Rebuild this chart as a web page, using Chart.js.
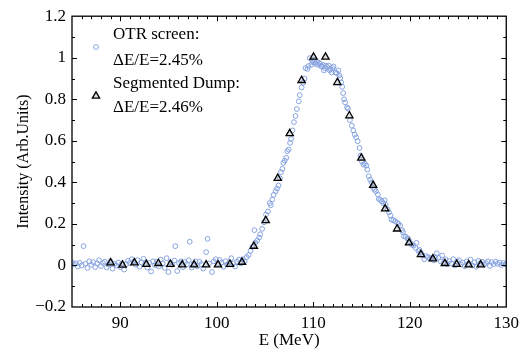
<!DOCTYPE html>
<html><head><meta charset="utf-8">
<script src="https://cdn.jsdelivr.net/npm/chart.js@4/dist/chart.umd.min.js"></script>
<style>html,body{margin:0;padding:0;background:#fff}#wrap{width:525px;height:351px}</style>
</head><body><div id="wrap"><canvas id="c" width="525" height="351"></canvas></div>
<script>
const otrE = [85.0,85.2,85.4,85.6,85.8,86.0,86.2,86.4,86.6,86.8,87.0,87.2,87.4,87.6,87.8,88.0,88.2,88.4,88.6,88.8,89.0,89.2,89.4,89.6,89.8,90.0,90.2,90.4,90.6,90.8,91.0,91.2,91.4,91.6,91.8,92.0,92.2,92.4,92.6,92.8,93.0,93.2,93.4,93.6,93.8,94.0,94.2,94.4,94.6,94.8,95.0,95.2,95.4,95.6,95.7,95.9,96.1,96.3,96.5,96.7,96.9,97.1,97.2,97.4,97.6,97.8,98.0,98.2,98.4,98.6,98.9,99.05,99.2,99.5,99.7,99.9,100.1,100.3,100.5,100.7,100.9,101.1,101.3,101.5,101.7,101.9,102.1,102.3,102.5,102.7,102.9,103.1,103.3,103.5,103.7,103.9,104.0,104.2,104.4,104.5,104.7,104.9,105.1,105.3,105.5,105.6,105.75,105.9,106.1,106.25,106.4,106.55,106.65,106.8,106.9,107.05,107.2,107.3,107.45,107.6,107.7,107.85,108.0,108.16,108.3,108.5,108.6,108.8,108.95,109.1,109.2,109.4,109.5,109.64,109.8,109.9,110.0,110.1,110.2,110.35,110.5,110.6,110.7,110.8,110.9,111.0,111.1,111.2,111.3,111.45,111.6,111.7,111.8,111.9,112.0,112.1,112.3,112.45,112.6,112.7,112.8,112.9,113.0,113.1,113.2,113.3,113.5,113.6,113.8,114.0,114.15,114.3,114.45,114.6,114.8,114.9,115.05,115.2,115.35,115.5,115.6,115.75,115.9,116.05,116.2,116.35,116.5,116.7,116.8,116.95,117.1,117.25,117.4,117.5,117.7,117.85,118.0,118.1,118.3,118.5,118.7,118.85,119.0,119.2,119.3,119.4,119.6,119.75,119.85,120.0,120.2,120.4,120.6,120.7,120.9,121.0,121.15,121.3,121.5,121.7,121.9,122.1,122.3,122.5,122.65,122.8,123.0,123.2,123.35,123.5,123.7,123.9,124.1,124.3,124.5,124.7,124.9,125.1,125.3,125.5,125.7,125.9,126.1,126.3,126.5,126.7,126.9,127.1,127.3,127.5,127.7,127.9,128.1,128.3,128.5,128.7,128.9,129.1,129.3,129.5,129.7,129.9,130.0];
const otrI = [0.015,0.005,0.01,-0.005,0.012,0.0,0.093,0.008,-0.012,0.02,0.003,0.016,-0.008,0.01,0.025,-0.003,0.012,0.018,-0.01,0.005,0.02,-0.015,0.008,0.0,0.014,-0.008,0.01,-0.02,0.006,0.022,0.012,0.03,0.018,0.004,0.026,-0.006,0.015,0.032,0.008,-0.01,0.012,-0.029,0.02,0.002,0.018,-0.005,0.028,0.01,-0.012,0.035,-0.032,0.014,0.004,0.024,0.093,-0.027,0.012,0.02,-0.008,0.016,0.006,0.025,0.114,-0.01,0.008,0.02,-0.004,0.018,0.006,-0.015,0.064,0.128,0.01,-0.032,0.02,0.03,0.008,0.026,0.014,-0.006,0.02,0.004,0.016,0.035,0.01,-0.005,0.018,0.028,0.01,0.03,0.02,0.04,0.05,0.07,0.09,0.17,0.11,0.12,0.135,0.15,0.176,0.208,0.245,0.26,0.30,0.29,0.317,0.34,0.357,0.37,0.385,0.42,0.449,0.465,0.494,0.505,0.518,0.55,0.558,0.59,0.609,0.65,0.69,0.72,0.753,0.79,0.82,0.857,0.88,0.90,0.95,0.946,0.96,0.998,0.966,0.985,0.977,0.99,0.971,0.98,0.966,0.975,0.971,0.96,0.958,0.965,0.939,0.95,0.962,0.955,0.962,0.94,0.946,0.929,0.95,0.958,0.929,0.926,0.939,0.915,0.902,0.881,0.86,0.83,0.80,0.785,0.761,0.755,0.70,0.673,0.65,0.63,0.617,0.598,0.566,0.529,0.50,0.486,0.49,0.481,0.462,0.43,0.413,0.40,0.374,0.365,0.357,0.341,0.32,0.315,0.309,0.30,0.314,0.293,0.27,0.256,0.24,0.221,0.218,0.213,0.205,0.20,0.192,0.17,0.16,0.141,0.138,0.13,0.128,0.115,0.10,0.096,0.085,0.109,0.069,0.075,0.061,0.05,0.029,0.045,0.04,0.032,0.037,0.025,0.04,0.058,0.037,0.02,0.048,0.012,0.03,0.006,0.021,0.01,0.03,0.0,0.018,0.025,0.005,0.014,-0.004,0.02,0.008,0.028,0.0,0.015,-0.006,0.022,0.01,0.018,0.004,0.012,0.02,-0.002,0.016,0.006,0.018,0.008,0.014,0.002,0.012,0.006,0.004];
const dumpE = [89.0,90.24,91.47,92.71,93.95,95.19,96.42,97.66,98.9,100.13,101.37,102.61,103.84,105.08,106.32,107.56,108.79,110.03,111.27,112.5,113.74,114.98,116.21,117.45,118.69,119.93,121.16,122.4,123.64,124.87,126.11,127.35];
const dumpI = [0.013,0.002,0.013,0.006,0.01,0.006,0.003,0.003,0.003,0.003,0.006,0.016,0.093,0.216,0.42,0.635,0.891,1.003,1.003,0.881,0.721,0.517,0.386,0.273,0.176,0.109,0.053,0.032,0.01,0.006,0.003,0.003];
const xTicks = [90,100,110,120,130];
const yTicks = [-0.2,0,0.2,0.4,0.6,0.8,1,1.2];
const legendLines = [["OTR screen:","ΔE/E=2.45%"],["Segmented Dump:","ΔE/E=2.46%"]];

const FONT = "'Liberation Serif','DejaVu Serif',serif";
const BLUE = '#86a3e0';

const frame = {
  id:'frame',
  afterDraw(chart){
    const {ctx, chartArea:a, scales:{x,y}} = chart;
    ctx.save();
    ctx.strokeStyle='#000'; ctx.lineWidth=1.3;
    ctx.strokeRect(a.left,a.top,a.right-a.left,a.bottom-a.top);
    ctx.lineWidth=1;
    ctx.beginPath();
    for(let v=86; v<130; v++){
      const px=Math.round(x.getPixelForValue(v))+0.5;
      const L = (v%10===0)?5:3;
      ctx.moveTo(px,a.bottom); ctx.lineTo(px,a.bottom-L);
      ctx.moveTo(px,a.top); ctx.lineTo(px,a.top+L);
    }
    for(let k=-1; k<12; k++){
      const v=k/10;
      const py=Math.round(y.getPixelForValue(v))+0.5;
      const L = (k%2===0)?5:3;
      ctx.moveTo(a.left,py); ctx.lineTo(a.left+L,py);
      ctx.moveTo(a.right,py); ctx.lineTo(a.right-L,py);
    }
    ctx.stroke();
    ctx.font = "17px "+FONT; ctx.fillStyle='#000'; ctx.textBaseline='middle';
    const lx = a.left+24, tx = a.left+41;
    const rows=[[35,61],[84,108]];
    legendLines.forEach((ln,i)=>{
      ctx.fillText(ln[0],tx,rows[i][0]);
      ctx.fillText(ln[1],tx,rows[i][1]);
    });
    const ds0=chart.data.datasets[0], ds1=chart.data.datasets[1];
    ctx.beginPath(); ctx.strokeStyle=ds0.borderColor; ctx.lineWidth=ds0.borderWidth;
    ctx.arc(lx,47,ds0.pointRadius,0,Math.PI*2); ctx.stroke();
    ctx.fillStyle=ds1.backgroundColor; ctx.strokeStyle=ds1.borderColor; ctx.lineWidth=ds1.borderWidth;
    Chart.helpers.drawPoint(ctx,{pointStyle:'triangle',radius:ds1.pointRadius,borderWidth:ds1.borderWidth},lx,96);
    ctx.restore();
  }
};

new Chart(document.getElementById('c'),{
  type:'scatter',
  data:{datasets:[
    {label:'OTR screen', data:otrE.map((e,i)=>({x:e,y:otrI[i]})), pointStyle:'circle', pointRadius:2.4, borderWidth:1, borderColor:BLUE, backgroundColor:'rgba(0,0,0,0)', order:2},
    {label:'Segmented Dump', data:dumpE.map((e,i)=>({x:e,y:dumpI[i]})), pointStyle:'triangle', pointRadius:4.2, borderWidth:1.3, borderColor:'#000', backgroundColor:'rgba(140,140,140,0.25)', order:1}
  ]},
  options:{
    responsive:false, animation:false, devicePixelRatio:1,
    layout:{padding:{top:16,right:16,left:0,bottom:0}},
    plugins:{legend:{display:false},tooltip:{enabled:false}},
    scales:{
      x:{type:'linear',min:85,max:130,
        afterBuildTicks(s){s.ticks=xTicks.map(v=>({value:v}));},
        afterFit(s){s.height=44;},
        grid:{display:false,drawTicks:false},border:{display:false},
        ticks:{color:'#000',font:{family:FONT,size:17},padding:6,maxRotation:0,autoSkip:false},
        title:{display:true,text:'E (MeV)',color:'#000',font:{family:FONT,size:17},padding:{top:-6,bottom:0}}
      },
      y:{type:'linear',min:-0.2,max:1.2,
        afterBuildTicks(s){s.ticks=yTicks.map(v=>({value:v}));},
        afterFit(s){s.width=72;},
        grid:{display:false,drawTicks:false},border:{display:false},
        ticks:{color:'#000',font:{family:FONT,size:17},padding:6,autoSkip:false,
          callback:(v)=>{const r=Math.round(v*10)/10; return r<0?'\u2212'+Math.abs(r):String(r);}},
        title:{display:true,text:'Intensity (Arb.Units)',color:'#000',font:{family:FONT,size:16},padding:{top:14,bottom:4}}
      }
    }
  },
  plugins:[frame]
});
</script></body></html>
